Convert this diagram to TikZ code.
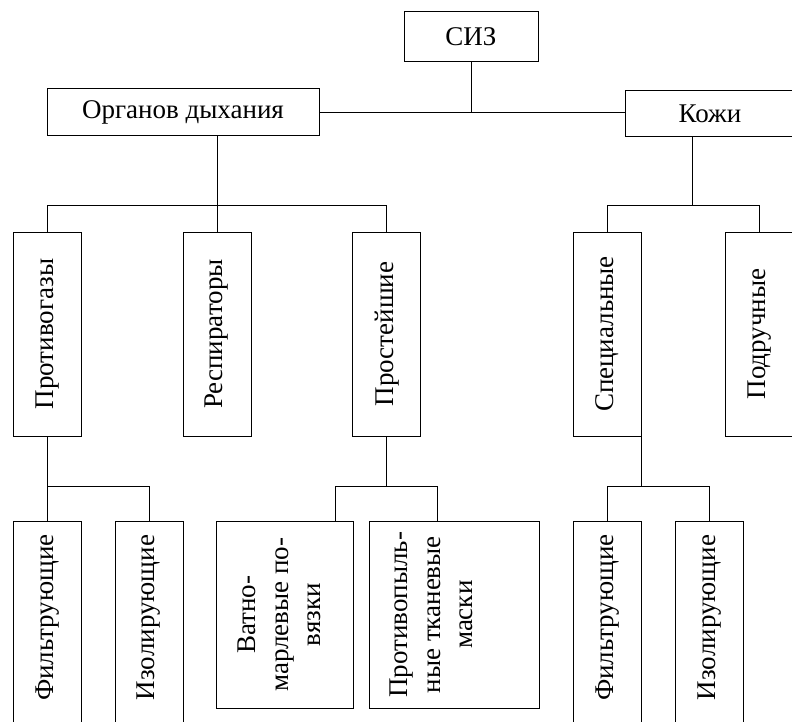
\documentclass[tikz,border=0pt]{standalone}
\usepackage{fontspec}
\setmainfont{Liberation Serif}
\begin{document}
\begin{tikzpicture}[x=1pt,y=-1pt,
  box/.style={draw, line width=1pt, inner sep=0pt, font=\fontsize{27}{32.5}\selectfont},
  conn/.style={line width=1pt}]
\clip (0,0) rectangle (792,722);
% level 0 and 1
\node[box, minimum width=134pt, minimum height=50pt] (siz) at (471,37) {СИЗ};
\node[box, minimum width=272pt, minimum height=47pt] (org) at (183,112.5) {Органов дыхания};
\node[box, minimum width=170pt, minimum height=46pt] (kozhi) at (710,114) {Кожи};
% level 2
\node[box, minimum width=68pt, minimum height=204pt] (pg) at (47.3,334) {\rotatebox{90}{Противогазы}};
\node[box, minimum width=68pt, minimum height=204pt] (resp) at (217,334) {\rotatebox{90}{Респираторы}};
\node[box, minimum width=68pt, minimum height=204pt] (prost) at (386.7,334) {\rotatebox{90}{Простейшие}};
\node[box, minimum width=68pt, minimum height=204pt] (spec) at (607.3,334) {\rotatebox{90}{Специальные}};
\node[box, minimum width=68pt, minimum height=204pt] (podr) at (759.7,334) {\rotatebox{90}{Подручные}};
% level 3
\node[box, minimum width=68pt, minimum height=204pt] (f1) at (47.3,623) {\rotatebox{90}{\hspace*{11pt}Фильтрующие}};
\node[box, minimum width=68pt, minimum height=204pt] (i1) at (149,623) {\rotatebox{90}{\hspace*{11pt}Изолирующие}};
\node[box] (vat) at (285,614.7) {\rotatebox{90}{\parbox[c][136.6pt][t]{187.3pt}{\vspace*{21.5pt}\centering Ватно-\\марлевые по-\\вязки}}};
\node[box] (ptm) at (454.3,614.7) {\rotatebox{90}{\parbox[c][170pt][t]{187.3pt}{\vspace*{21pt}\centering Противопыль-\\ные тканевые\\маски}}};
\node[box, minimum width=68pt, minimum height=204pt] (f2) at (607.3,623) {\rotatebox{90}{\hspace*{11pt}Фильтрующие}};
\node[box, minimum width=68pt, minimum height=204pt] (i2) at (709.2,623) {\rotatebox{90}{\hspace*{11pt}Изолирующие}};
% connectors
\draw[conn] (siz.south) -- (siz.south |- org.east);
\draw[conn] (org.east) -- (org.east -| kozhi.west);
\draw[conn] (org.south -| resp.north) -- (resp.north);
\draw[conn] (pg.north) -- ++(0,-26) -| (prost.north);
\coordinate (kj) at (692,206);
\draw[conn] (kozhi.south -| kj) -- (kj);
\draw[conn] (spec.north) -- ++(0,-26) -| (podr.north);
\draw[conn] (pg.south) -- (f1.north);
\draw[conn] (f1.north) ++(0,-34.3) -| (i1.north);
\coordinate (vl) at (335.7,486.7);
\coordinate (vr) at (437.3,486.7);
\draw[conn] (prost.south) -- (prost.south |- vl);
\draw[conn] (vl |- vat.north) -- (vl) -- (vr) -- (vr |- ptm.north);
\draw[conn] (spec.south east) -- ++(0,50.7);
\draw[conn] (f2.north) -- ++(0,-34.3) -| (i2.north);
\end{tikzpicture}
\end{document}
